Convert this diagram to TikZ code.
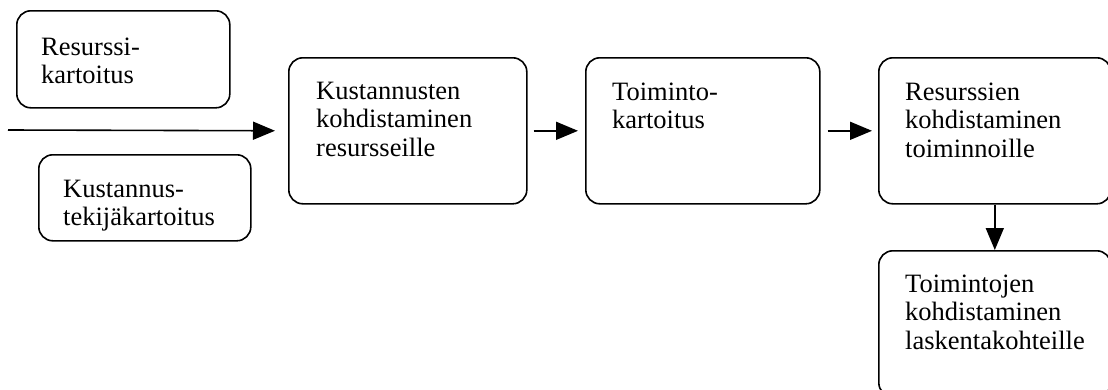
\documentclass[tikz,border=0pt]{standalone}
\usepackage{fontspec}
\setmainfont{Liberation Serif}
\usetikzlibrary{arrows.meta,calc}

\tikzset{
  box/.style={draw, line width=1.6pt, rounded corners=14pt, inner sep=0pt,
    anchor=north west, minimum width=#1},
  boxtext/.style={anchor=north west, inner sep=0pt, align=left,
    font=\fontsize{26.5pt}{28.5pt}\selectfont},
  flow/.style={line width=1.6pt, -{Triangle[length=22pt,width=18pt]}},
}

\begin{document}
\begin{tikzpicture}[x=1pt, y=-1pt]
  \useasboundingbox (0,0) rectangle (1108,389);
  \clip (0,0) rectangle (1108,389);

  % process boxes
  \node[box=213pt, minimum height=97pt]  (res)   at (16,10)  {};
  \node[box=212pt, minimum height=86pt]  (drv)   at (38,154) {};
  \node[box=238pt, minimum height=146pt] (kres)  at (288,57) {};
  \node[box=234pt, minimum height=146pt] (toim)  at (585,57) {};
  \node[box=232pt, minimum height=146pt] (rtoim) at (878,57) {};
  \node[box=232pt, minimum height=146pt] (lask)  at (878,250) {};

  % box texts (first baseline set by the strut)
  \node[boxtext] (tres)   at ($(res.north west)+(25,25)$)   {\strut Resurssi-\\kartoitus};
  \node[boxtext] (tdrv)   at ($(drv.north west)+(25,23)$)   {\strut Kustannus-\\tekijäkartoitus};
  \node[boxtext] (tkres)  at ($(kres.north west)+(28,22)$)  {\strut Kustannusten\\kohdistaminen\\resursseille};
  \node[boxtext] (ttoim)  at ($(toim.north west)+(27,23)$)  {\strut Toiminto-\\kartoitus};
  \node[boxtext] (trtoim) at ($(rtoim.north west)+(27,23)$) {\strut Resurssien\\kohdistaminen\\toiminnoille};
  \node[boxtext] (tlask)  at ($(lask.north west)+(27,22)$)  {\strut Toimintojen\\kohdistaminen\\laskentakohteille};

  % connectors
  \coordinate (in) at (8,130);
  \draw[flow, shorten >=13pt] (in) -- (kres.west);
  \draw[flow, shorten <=6pt, shorten >=7pt] (kres.east) -- (toim.west);
  \draw[flow, shorten <=7pt, shorten >=6pt] (toim.east) -- (rtoim.west);
  \draw[flow] (rtoim.south) -- (lask.north);
\end{tikzpicture}
\end{document}
